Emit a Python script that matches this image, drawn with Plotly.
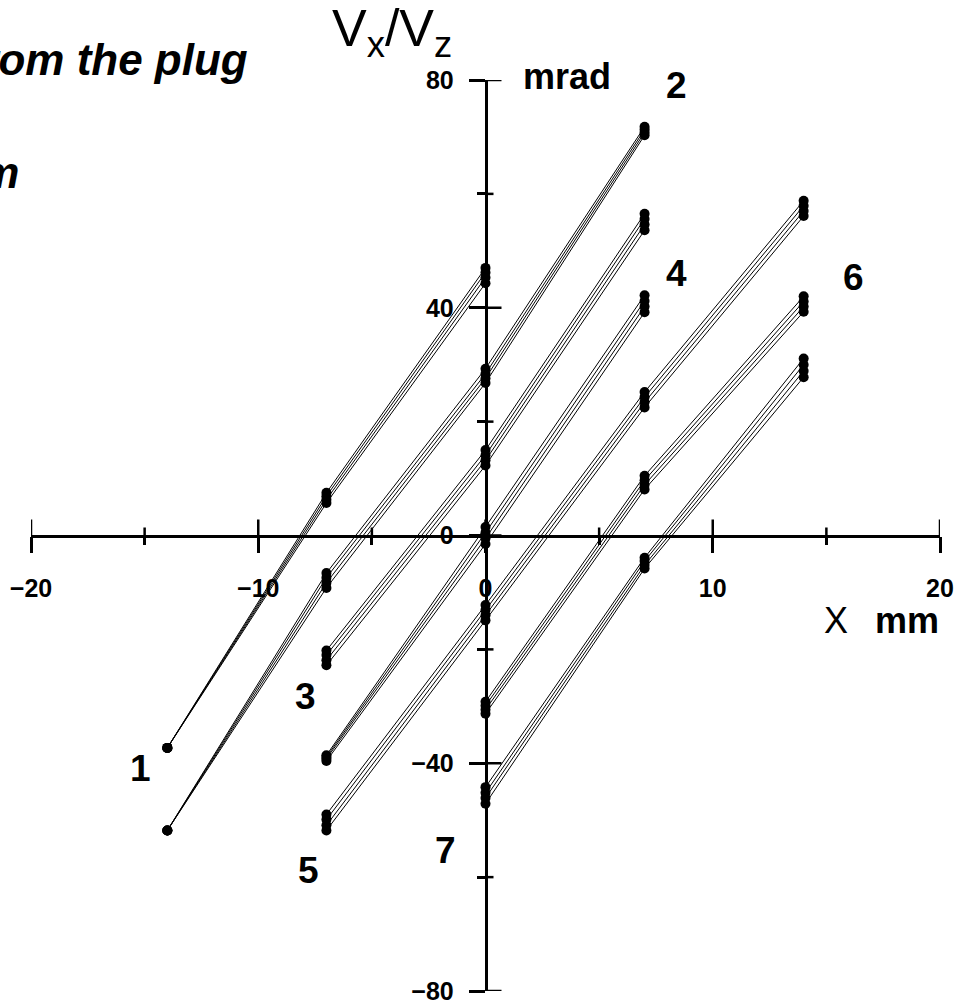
import plotly.graph_objects as go

# Stations along X (mm) for each numbered group of rays
g1_x = [-14, -7, 0]
g2_x = [-14, -7, 0, 7]
g3_x = [-7, 0, 7]
g4_x = [-7, 0, 7]
g5_x = [-7, 0, 7, 14]
g6_x = [0, 7, 14]
g7_x = [0, 7, 14]

# Vx/Vz (mrad) of the four rays of each group at those stations
g1_rays = [[-37.3, 7.5, 47.0], [-37.3, 6.9, 46.2], [-37.3, 6.3, 45.3], [-37.3, 5.7, 44.3]]
g2_rays = [[-51.8, -6.6, 29.3, 71.8], [-51.8, -7.4, 28.4, 71.3],
           [-51.8, -8.3, 27.6, 70.8], [-51.8, -9.2, 26.8, 70.3]]
g3_rays = [[-20.2, 15.0, 56.5], [-21.0, 14.1, 55.6], [-21.9, 13.2, 54.6], [-22.8, 12.3, 53.6]]
g4_rays = [[-38.6, 1.5, 42.2], [-38.9, 0.5, 41.2], [-39.2, -0.5, 40.2], [-39.6, -1.5, 39.2]]
g5_rays = [[-49.0, -12.2, 25.2, 58.8], [-49.9, -13.1, 24.3, 57.9],
           [-50.9, -14.0, 23.4, 57.0], [-51.8, -14.9, 22.5, 56.1]]
g6_rays = [[-29.2, 10.5, 42.0], [-29.9, 9.7, 41.1], [-30.6, 8.9, 40.2], [-31.3, 8.1, 39.3]]
g7_rays = [[-44.2, -3.9, 31.1], [-45.2, -4.5, 30.0], [-46.1, -5.2, 28.9], [-47.1, -5.8, 27.8]]

# Group number labels and where they sit (mm, mrad)
group_labels = ["1", "2", "3", "4", "5", "6", "7"]
label_x = [-15.2, 8.4, -7.9, 8.4, -7.8, 16.2, -1.75]
label_y = [-40.9, 79.0, -28.2, 46.1, -58.8, 45.3, -55.3]

# Axis ranges and tick positions
x_range = [-20, 20]
y_range = [-80, 80]
x_major = [-20, -10, 0, 10, 20]
x_minor = [-15, -5, 5, 15]
y_major = [-80, -40, 0, 40, 80]
y_minor = [-60, -20, 20, 60]

FONT = "Liberation Sans, Arial, sans-serif"
W, H = 957, 1005
ML, MR, MT, MB = 31, 17, 80, 14
PLOT_W = W - ML - MR
PLOT_H = H - MT - MB
MAJOR_LEN, MINOR_LEN, TICK_W, AXIS_W = 16, 8, 2.5, 2.5


def paper_x(px):
    return (px - ML) / PLOT_W


def paper_y(py):
    return (H - MB - py) / PLOT_H


def px_to_mm(n):
    return n * (x_range[1] - x_range[0]) / PLOT_W


def px_to_mrad(n):
    return n * (y_range[1] - y_range[0]) / PLOT_H


fig = go.Figure()

groups = [(g1_x, g1_rays), (g2_x, g2_rays), (g3_x, g3_rays), (g4_x, g4_rays),
          (g5_x, g5_rays), (g6_x, g6_rays), (g7_x, g7_rays)]
for xs, rays in groups:
    for ray in rays:
        fig.add_trace(go.Scatter(
            x=xs, y=ray, mode="lines+markers",
            line=dict(color="black", width=1),
            marker=dict(color="black", size=10),
            showlegend=False, hoverinfo="skip", cliponaxis=False,
        ))

# Upper halves of the X ticks and right halves of the Y ticks (cross-style ticks)
tx, ty = [], []
for v, n in [(v, MAJOR_LEN) for v in x_major] + [(v, MINOR_LEN) for v in x_minor]:
    tx += [v, v, None]
    ty += [0, px_to_mrad(n), None]
for v, n in [(v, MAJOR_LEN) for v in y_major] + [(v, MINOR_LEN) for v in y_minor]:
    tx += [0, px_to_mm(n), None]
    ty += [v, v, None]
fig.add_trace(go.Scatter(x=tx, y=ty, mode="lines",
                         line=dict(color="black", width=TICK_W),
                         showlegend=False, hoverinfo="skip", cliponaxis=False))

tickfont = dict(family=FONT, size=25, color="black", weight="bold")
axis_common = dict(showgrid=False, zeroline=False, anchor="free", position=0.5,
                   automargin=False, showline=True, linewidth=AXIS_W, linecolor="black",
                   ticks="outside", ticklen=MAJOR_LEN, tickwidth=TICK_W, tickcolor="black",
                   tick0=0, tickfont=tickfont, ticklabeloverflow="allow")

fig.update_layout(
    template="none",
    width=W, height=H,
    margin=dict(l=ML, r=MR, t=MT, b=MB, autoexpand=False),
    paper_bgcolor="white", plot_bgcolor="white",
    showlegend=False,
    xaxis=dict(range=x_range, dtick=10, ticklabelstandoff=14,
               minor=dict(dtick=5, ticks="outside", ticklen=MINOR_LEN, tickwidth=TICK_W,
                          tickcolor="black", showgrid=False),
               **axis_common),
    yaxis=dict(range=y_range, dtick=40, ticklabelstandoff=10,
               minor=dict(dtick=20, ticks="outside", ticklen=MINOR_LEN, tickwidth=TICK_W,
                          tickcolor="black", showgrid=False),
               **axis_common),
)

# Group numbers
for t, lx, ly in zip(group_labels, label_x, label_y):
    fig.add_annotation(x=lx, y=ly, xref="x", yref="y", text=t, showarrow=False,
                       font=dict(family=FONT, size=37, color="black", weight="bold"),
                       xanchor="center", yanchor="middle")

# Axis titles and units
fig.add_annotation(x=paper_x(392), y=paper_y(32), xref="paper", yref="paper",
                   text="V<sub>x</sub>/V<sub>z</sub>", showarrow=False,
                   font=dict(family=FONT, size=52, color="black"),
                   xanchor="center", yanchor="middle")
fig.add_annotation(x=paper_x(521), y=paper_y(77), xref="paper", yref="paper",
                   text="mrad", showarrow=False,
                   font=dict(family=FONT, size=36, color="black", weight="bold"),
                   xanchor="left", yanchor="middle")
fig.add_annotation(x=paper_x(836), y=paper_y(620), xref="paper", yref="paper",
                   text="X", showarrow=False,
                   font=dict(family=FONT, size=36, color="black"),
                   xanchor="center", yanchor="middle")
fig.add_annotation(x=paper_x(873), y=paper_y(620), xref="paper", yref="paper",
                   text="mm", showarrow=False,
                   font=dict(family=FONT, size=36, color="black", weight="bold"),
                   xanchor="left", yanchor="middle")

# Caption in the upper left corner
caption_font = dict(family=FONT, size=44, color="black", weight="bold", style="italic")
fig.add_annotation(x=paper_x(250), y=paper_y(59), xref="paper", yref="paper",
                   text="Distance from the plug", showarrow=False, font=caption_font,
                   xanchor="right", yanchor="middle")
fig.add_annotation(x=paper_x(21), y=paper_y(172), xref="paper", yref="paper",
                   text="Z = 30 mm", showarrow=False, font=caption_font,
                   xanchor="right", yanchor="middle")

fig.write_html("out.html")
